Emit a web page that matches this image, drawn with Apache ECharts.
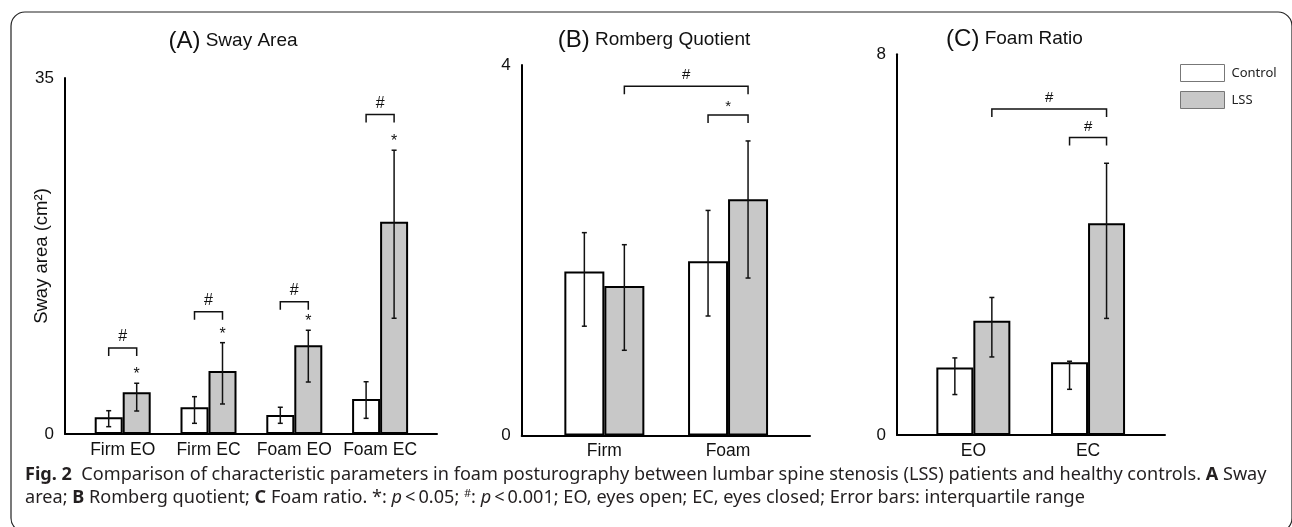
<!DOCTYPE html>
<html><head><meta charset="utf-8">
<script src="https://cdn.jsdelivr.net/npm/echarts@6/dist/echarts.min.js"></script>
<style>html,body{margin:0;padding:0;background:#fff}#c{width:1292px;height:527px}</style>
</head><body><div id="c"></div>
<script>
// ---------- DATA ----------
const catsA = ['Firm EO', 'Firm EC', 'Foam EO', 'Foam EC'];
const controlA = [1.64, 2.63, 1.87, 3.44];
const lssA = [4.10, 6.19, 8.72, 20.87];
const controlErrA = [[0.72, 2.29], [1.05, 3.67], [1.05, 2.63], [1.54, 5.14]];
const lssErrA = [[2.26, 4.99], [2.95, 8.98], [5.11, 10.2], [11.38, 27.9]];
const starsA = ['*', '*', '*', '*'];          // marks above LSS error bars
// brackets: [left category, left group (0 control / 1 LSS), right category, right group, height]
const bracketsA = [[0, 0, 0, 1, 8.46], [1, 0, 1, 1, 12.03], [2, 0, 2, 1, 13.0], [3, 0, 3, 1, 31.4]];
const bracketLabelsA = ['#', '#', '#', '#'];

const catsB = ['Firm', 'Foam'];
const controlB = [1.77, 1.88];
const lssB = [1.615, 2.55];
const controlErrB = [[1.18, 2.19], [1.29, 2.43]];
const lssErrB = [[0.92, 2.06], [1.70, 3.18]];
const starsB = ['', ''];
const bracketsB = [[0, 1, 1, 1, 3.77], [1, 0, 1, 1, 3.46]];
const bracketLabelsB = ['#', '*'];

const catsC = ['EO', 'EC'];
const controlC = [1.42, 1.53];
const lssC = [2.40, 4.45];
const controlErrC = [[0.85, 1.62], [0.96, 1.55]];
const lssErrC = [[1.64, 2.89], [2.45, 5.71]];
const starsC = ['', ''];
const bracketsC = [[0, 1, 1, 1, 6.85], [1, 0, 1, 1, 6.25]];
const bracketLabelsC = ['#', '#'];

const yMax = [35, 4, 8];
const panelTitles = [['(A)', 'Sway Area'], ['(B)', 'Romberg Quotient'], ['(C)', 'Foam Ratio']];
const yNameA = 'Sway area (cm²)';
const seriesNames = ['Control', 'LSS'];

// ---------- LAYOUT ----------
const FONT = '"Liberation Sans", Arial, sans-serif';
const panels = [
  {cats: catsA, ctl: controlA, lss: lssA, ctlErr: controlErrA, lssErr: lssErrA, stars: starsA, br: bracketsA, brL: bracketLabelsA,
   axL: 65, axR: 437, top: 78, bot: 434, bL: 79.8, bR: 423, bw: 28, title: [233, 41], markSize: 16},
  {cats: catsB, ctl: controlB, lss: lssB, ctlErr: controlErrB, lssErr: lssErrB, stars: starsB, br: bracketsB, brL: bracketLabelsB,
   axL: 521.7, axR: 810, top: 65, bot: 435.5, bL: 542.5, bR: 789.9, bw: 40, title: [654, 40], markSize: 15},
  {cats: catsC, ctl: controlC, lss: lssC, ctlErr: controlErrC, lssErr: lssErrC, stars: starsC, br: bracketsC, brL: bracketLabelsC,
   axL: 897, axR: 1165, top: 54.3, bot: 435, bL: 916, bR: 1145.4, bw: 37, title: [1014.5, 39], markSize: 15}
];

const grid = [], xAxis = [], yAxis = [], series = [], graphic = [];

panels.forEach((p, i) => {
  const ga = 2 * i, gb = 2 * i + 1;
  grid.push({left: p.axL, top: p.top, width: p.axR - p.axL, height: p.bot - p.top});
  grid.push({left: p.bL, top: p.top, width: p.bR - p.bL, height: p.bot - p.top});
  xAxis.push({type: 'category', gridIndex: ga, data: p.cats, axisLine: {lineStyle: {color: '#000', width: 2}},
    axisTick: {show: false}, axisLabel: {show: false}});
  xAxis.push({type: 'category', gridIndex: gb, data: p.cats, axisLine: {show: false}, axisTick: {show: false},
    axisLabel: {interval: 0, hideOverlap: false, fontFamily: FONT, fontSize: 17.5, color: '#111', margin: 7}});
  const ya = {type: 'value', gridIndex: ga, min: 0, max: yMax[i], interval: yMax[i],
    axisLine: {show: true, lineStyle: {color: '#000', width: 2}}, axisTick: {show: false}, splitLine: {show: false},
    axisLabel: {fontFamily: FONT, fontSize: 17, color: '#111', margin: 11}};
  if (i === 0) {
    Object.assign(ya, {name: yNameA, nameLocation: 'middle', nameRotate: 90, nameGap: 14, nameMoveOverlap: false,
      nameTextStyle: {fontFamily: FONT, fontSize: 18.5, color: '#111'}});
  }
  yAxis.push(ya);
  yAxis.push({type: 'value', gridIndex: gb, min: 0, max: yMax[i], show: false});

  const bw = p.bw;
  [p.ctl, p.lss].forEach((vals, k) => {
    series.push({type: 'bar', name: seriesNames[k], xAxisIndex: gb, yAxisIndex: gb, data: vals,
      barWidth: bw, barGap: '0%', silent: true,
      itemStyle: {color: k ? '#c8c8c8' : '#ffffff', borderColor: '#000', borderWidth: 2}});
  });

  // error bars
  const errData = [];
  p.ctlErr.forEach((e, j) => errData.push([j, e[0], e[1], 0]));
  p.lssErr.forEach((e, j) => errData.push([j, e[0], e[1], 1]));
  series.push({type: 'custom', name: 'err' + i, xAxisIndex: gb, yAxisIndex: gb, data: errData, silent: true, z: 5,
    renderItem: (params, api) => {
      const c = api.coord([api.value(0), 0])[0] + (api.value(3) ? bw / 2 : -bw / 2);
      const y1 = api.coord([api.value(0), api.value(1)])[1];
      const y2 = api.coord([api.value(0), api.value(2)])[1];
      const st = {stroke: '#111', lineWidth: 1.5};
      return {type: 'group', children: [
        {type: 'line', shape: {x1: c, y1: y1, x2: c, y2: y2}, style: st},
        {type: 'line', shape: {x1: c - 2.5, y1: y1, x2: c + 2.5, y2: y1}, style: st},
        {type: 'line', shape: {x1: c - 2.5, y1: y2, x2: c + 2.5, y2: y2}, style: st}
      ]};
    }});

  // stars above LSS error bars
  const starData = [];
  p.stars.forEach((s, j) => { if (s) starData.push([j, p.lssErr[j][1]]); });
  const starTxt = p.stars.filter(s => s);
  if (starData.length) {
    series.push({type: 'custom', name: 'star' + i, xAxisIndex: gb, yAxisIndex: gb, data: starData, silent: true, z: 6,
      renderItem: (params, api) => {
        const pt = api.coord([api.value(0), api.value(1)]);
        return {type: 'text', style: {text: starTxt[params.dataIndex], x: pt[0] + bw / 2, y: pt[1] - 12 + 0.22 * p.markSize,
          align: 'center', verticalAlign: 'middle', font: p.markSize + 'px ' + FONT, fill: '#111'}};
      }});
  }

  // significance brackets
  series.push({type: 'custom', name: 'br' + i, xAxisIndex: gb, yAxisIndex: gb, data: p.br, silent: true, z: 6,
    renderItem: (params, api) => {
      const xl = api.coord([api.value(0), 0])[0] + (api.value(1) ? bw / 2 : -bw / 2);
      const xr = api.coord([api.value(2), 0])[0] + (api.value(3) ? bw / 2 : -bw / 2);
      const y = api.coord([0, api.value(4)])[1];
      const lab = p.brL[params.dataIndex];
      const ly = y - 11 + (lab === '*' ? 0.22 * p.markSize : 0);
      return {type: 'group', children: [
        {type: 'polyline', shape: {points: [[xl, y + 8], [xl, y], [xr, y], [xr, y + 8]]},
          style: {stroke: '#111', lineWidth: 1.5, fill: null}},
        {type: 'text', style: {text: lab, x: (xl + xr) / 2, y: ly, align: 'center', verticalAlign: 'middle',
          font: p.markSize + 'px ' + FONT, fill: '#111'}}
      ]};
    }});

  graphic.push({type: 'text', x: p.title[0], y: p.title[1], silent: true,
    style: {text: '{a|' + panelTitles[i][0] + '} {b|' + panelTitles[i][1] + '}', align: 'center', verticalAlign: 'middle',
      rich: {a: {fontFamily: FONT, fontSize: 24, fill: '#111'}, b: {fontFamily: FONT, fontSize: 19, fill: '#111'}},
      fontFamily: FONT, fontSize: 19, fill: '#111'}});
});

// frame
graphic.push({type: 'rect', silent: true, shape: {x: 11, y: 12, width: 1281, height: 520, r: 14},
  style: {fill: null, stroke: '#222', lineWidth: 1.2}, z: -1});

// caption
const CAPF = '"Noto Sans", "Open Sans", sans-serif';
const CS = 18;
const cap1 = '{b|Fig. 2}  Comparison of characteristic parameters in foam posturography between lumbar spine stenosis (LSS) patients and healthy controls. {b|A} Sway';
const cap2 = 'area; {b|B} Romberg quotient; {b|C} Foam ratio. *: {i|p}\u2009<\u20090.05; {s|#}: {i|p}\u2009<\u20090.001; EO, eyes open; EC, eyes closed; Error bars: interquartile range';
const capRich = {b: {fontWeight: 'bold', fontFamily: CAPF, fontSize: CS, fill: '#231f20'},
  i: {fontStyle: 'italic', fontFamily: CAPF, fontSize: CS, fill: '#231f20'},
  s: {fontFamily: CAPF, fontSize: 11, fill: '#231f20', padding: [0, 0, 8, 0]}};
[cap1, cap2].forEach((t, k) => {
  graphic.push({type: 'text', x: 25, y: 475 + k * 23, scaleX: 1.006, silent: true,
    style: {text: t, rich: capRich, fontFamily: CAPF, fontSize: CS, fill: '#231f20', verticalAlign: 'middle'}});
});

const chart = echarts.init(document.getElementById('c'), null, {renderer: 'canvas'});
chart.setOption({
  animation: false,
  backgroundColor: '#fff',
  grid, xAxis, yAxis, series, graphic,
  legend: {data: seriesNames, orient: 'vertical', left: 1175, top: 59, itemWidth: 44, itemHeight: 17, itemGap: 9,
    icon: 'rect', selectedMode: false,
    itemStyle: {borderColor: '#777', borderWidth: 1},
    textStyle: {fontFamily: '"Noto Sans", sans-serif', fontSize: 13, color: '#222', padding: [0, 0, 0, 2]}}
});
</script></body></html>
